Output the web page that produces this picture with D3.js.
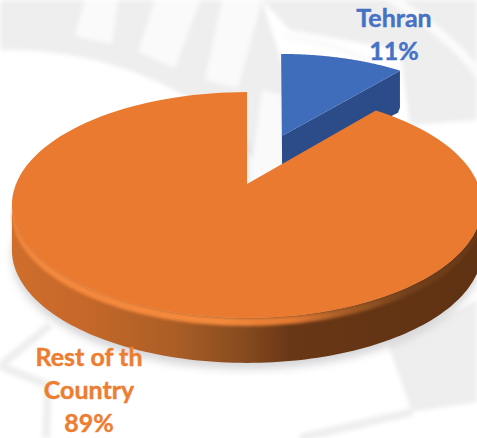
<!DOCTYPE html>
<html>
<head>
<meta charset="utf-8">
<script src="https://cdn.jsdelivr.net/npm/d3@7"></script>
<style>
  html, body { margin: 0; padding: 0; background: #fff; }
  svg { display: block; }
  text { font-family: Lato, "Open Sans", sans-serif; font-weight: 700; font-size: 25px; text-anchor: middle; stroke-width: 0.4px; }
</style>
</head>
<body>
<div id="chart"></div>
<script>
// data
var categories = ["Tehran", "Rest of the Country"];
var shares = [11, 89];
var labelLines = [["Tehran", "11%"], ["Rest of th", "Country", "89%"]];

var width = 477, height = 438;
var depth = 45;

// each slice has its own 3d view: apex on screen, radii and perspective strength
var blueView = { cx: 282, cy: 136, rx: 209, ry: 95.8, k: 0.168 };
var orangeView = { cx: 247, cy: 184, rx: 231, ry: 109, k: 0.186 };

var svg = d3.select("#chart")
  .append("svg")
  .attr("width", width)
  .attr("height", height);

var defs = svg.append("defs");
defs.append("filter").attr("id", "soft").attr("x", "-20%").attr("y", "-20%").attr("width", "140%").attr("height", "140%")
  .append("feGaussianBlur").attr("stdDeviation", 4);
defs.append("filter").attr("id", "rimBlur").attr("x", "-5%").attr("y", "-5%").attr("width", "110%").attr("height", "110%")
  .append("feGaussianBlur").attr("stdDeviation", 1.5);
defs.append("filter").attr("id", "markBlur")
  .append("feGaussianBlur").attr("stdDeviation", 2);

function hGradient(id, x1, x2, stops) {
  var g = defs.append("linearGradient").attr("id", id)
    .attr("gradientUnits", "userSpaceOnUse")
    .attr("x1", x1).attr("x2", x2).attr("y1", 0).attr("y2", 0);
  stops.forEach(function (s) {
    g.append("stop").attr("offset", s[0]).attr("stop-color", s[1]);
  });
}
hGradient("orangeSide", 12, 477, [[0, "#cf6e2c"], [0.15, "#c6682a"], [0.35, "#ab5e26"], [0.5, "#864a1f"], [0.6, "#683716"], [1, "#5f3213"]]);
hGradient("orangeRim", 12, 477, [[0, "#f5893c"], [0.45, "#f4893b"], [0.6, "#e27a32"], [0.72, "#a55c25"], [0.85, "#73401a"], [1, "#6a3816"]]);

// --- faint watermark behind the chart
var mark = svg.append("g").attr("fill", "#eeeeef").attr("filter", "url(#markBlur)");
mark.append("path").attr("d", "M0,50 Q110,48 200,105 L282,190 L300,120 L262,0 L0,0 Z");
mark.append("path").attr("d", "M262,0 L477,0 L477,120 L410,125 L400,50 L290,30 Z");
mark.append("g").attr("fill", "#fafafa").selectAll("path")
  .data(["M85,0 L118,0 L112,44 L75,36 Z", "M155,0 L200,0 L175,68 L138,52 Z", "M222,0 L262,0 L238,88 L205,80 Z",
         "M262,90 L282,95 L282,180 L250,180 Z"])
  .join("path").attr("d", function (d) { return d; });
mark.append("path").attr("fill", "none").attr("stroke", "#fbfbfb").attr("stroke-width", 9)
  .attr("d", "M385,-5 Q445,30 480,75");
mark.append("path").attr("fill", "none").attr("stroke", "#fbfbfb").attr("stroke-width", 7)
  .attr("d", "M282,35 Q340,45 372,62");
mark.append("path").attr("d", "M388,345 L477,300 L477,402 L412,412 Z");
mark.append("path").attr("fill", "none").attr("stroke", "#eeeeef").attr("stroke-width", 8)
  .attr("d", "M0,366 L50,325 M0,366 L48,385 L46,438 M412,412 L300,438");

// --- slices
var pie = d3.pie().sort(null).startAngle(0).endAngle(2 * Math.PI);
var arcs = pie(shares);

function project(view, angle, r) {
  var X = r * Math.sin(angle), Y = r * Math.cos(angle);
  var w = 1 + view.k * Y;
  return [view.cx + view.rx * X / w, view.cy - view.ry * Y / w];
}
function rimPoints(view, a0, a1) {
  return d3.range(0, 121).map(function (i) {
    return project(view, a0 + (a1 - a0) * i / 120, 1);
  });
}
function shift(points, dy) {
  return points.map(function (p) { return [p[0], p[1] + dy]; });
}
var openLine = d3.line();
var closedLine = d3.line().curve(d3.curveLinearClosed);

var tehran = arcs[0], rest = arcs[1];
var restTop = [[orangeView.cx, orangeView.cy]].concat(rimPoints(orangeView, rest.startAngle, rest.endAngle));
var tehranTop = [[blueView.cx, blueView.cy]].concat(rimPoints(blueView, tehran.startAngle, tehran.endAngle));

// front part of the rim, between the two horizontal extremes of the ellipse
var frontRim = rimPoints(orangeView, Math.PI / 2 + 0.19, 3 * Math.PI / 2 - 0.19);
var sideShape = frontRim.concat(shift(frontRim, depth).reverse());
var rimShape = frontRim.concat(shift(frontRim, 8).reverse());

// drop shadow
svg.append("path").attr("d", closedLine(shift(restTop, depth + 6)))
  .attr("fill", "#c4c4c8").attr("opacity", 0.7).attr("filter", "url(#soft)");

// blue slice, behind the orange one
var corner = project(blueView, tehran.endAngle, 1);
var blueWall = [[blueView.cx, blueView.cy], corner, [corner[0], corner[1] + depth - 8],
  [corner[0] - 2, corner[1] + depth - 3], [corner[0] - 8, corner[1] + depth], [blueView.cx + 1, blueView.cy + depth]];
svg.append("path").attr("d", closedLine(blueWall)).attr("fill", "#2b4c88");
svg.append("path").attr("d", openLine([[blueView.cx, blueView.cy - 82], [blueView.cx + 1, blueView.cy + depth]]))
  .attr("stroke", "#2b4c88").attr("stroke-width", 1.5).attr("fill", "none");
svg.append("path").attr("d", closedLine(tehranTop)).attr("fill", "#3f6dbb");

// orange slice
svg.append("path").attr("d", closedLine(sideShape)).attr("fill", "url(#orangeSide)");
svg.append("path").attr("d", closedLine(rimShape)).attr("fill", "url(#orangeRim)").attr("filter", "url(#rimBlur)");
svg.append("path").attr("d", closedLine(restTop)).attr("fill", "#e97a30");

// --- labels
var labelSpots = [[394, 27], [89, 366]];
var labelColors = ["#4472c4", "#ed7d31"];
labelLines.forEach(function (lines, i) {
  svg.append("g").selectAll("text")
    .data(lines)
    .join("text")
    .attr("x", labelSpots[i][0])
    .attr("y", function (d, j) { return labelSpots[i][1] + j * 33; })
    .attr("fill", labelColors[i])
    .attr("stroke", labelColors[i])
    .text(function (d) { return d; });
});
</script>
</body>
</html>
